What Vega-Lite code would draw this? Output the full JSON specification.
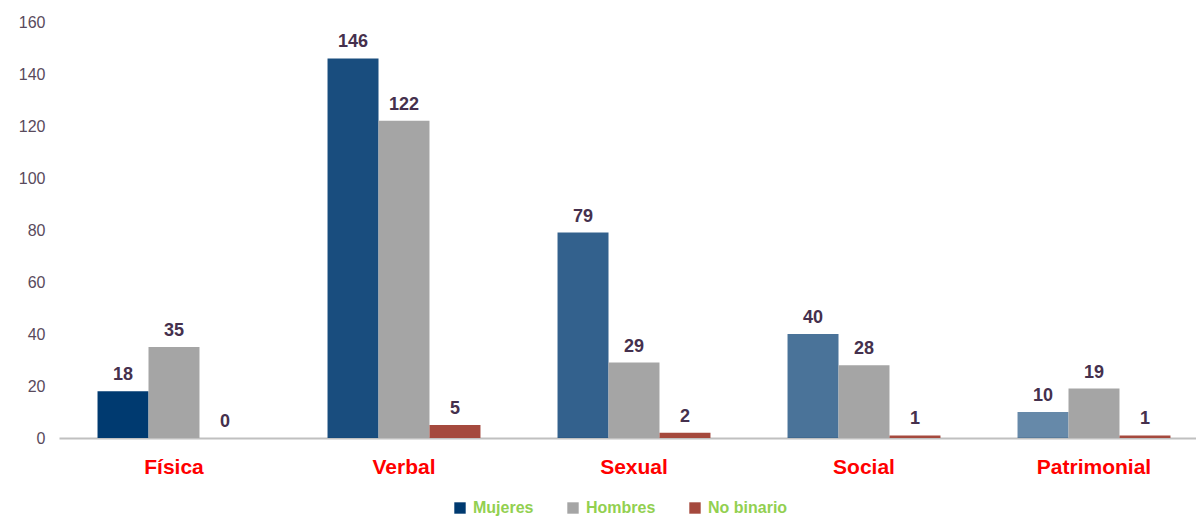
{
  "$schema": "https://vega.github.io/schema/vega-lite/v6.json",
  "autosize": {"type": "none"},
  "width": 1137,
  "height": 416,
  "padding": {"left": 59, "top": 22, "right": 0, "bottom": 80},
  "background": "white",
  "config": {
    "view": {"stroke": null},
    "font": "Liberation Sans"
  },
  "data": {
    "values": [
      {"categoria": "Física", "genero": "Mujeres", "valor": 18},
      {"categoria": "Física", "genero": "Hombres", "valor": 35},
      {"categoria": "Física", "genero": "No binario", "valor": 0},
      {"categoria": "Verbal", "genero": "Mujeres", "valor": 146},
      {"categoria": "Verbal", "genero": "Hombres", "valor": 122},
      {"categoria": "Verbal", "genero": "No binario", "valor": 5},
      {"categoria": "Sexual", "genero": "Mujeres", "valor": 79},
      {"categoria": "Sexual", "genero": "Hombres", "valor": 29},
      {"categoria": "Sexual", "genero": "No binario", "valor": 2},
      {"categoria": "Social", "genero": "Mujeres", "valor": 40},
      {"categoria": "Social", "genero": "Hombres", "valor": 28},
      {"categoria": "Social", "genero": "No binario", "valor": 1},
      {"categoria": "Patrimonial", "genero": "Mujeres", "valor": 10},
      {"categoria": "Patrimonial", "genero": "Hombres", "valor": 19},
      {"categoria": "Patrimonial", "genero": "No binario", "valor": 1}
    ]
  },
  "encoding": {
    "x": {
      "field": "categoria",
      "type": "nominal",
      "sort": ["Física", "Verbal", "Sexual", "Social", "Patrimonial"],
      "scale": {"range": [0, 1150], "paddingInner": 0.335, "paddingOuter": 0.1675},
      "axis": {
        "title": null,
        "labelAngle": 0,
        "labelColor": "#ff0000",
        "labelFontSize": 21,
        "labelFontWeight": "bold",
        "labelPadding": 18,
        "ticks": false,
        "domainColor": "#c0c0c0",
        "domainWidth": 2
      }
    },
    "xOffset": {
      "field": "genero",
      "type": "nominal",
      "sort": ["Mujeres", "Hombres", "No binario"]
    },
    "y": {
      "field": "valor",
      "type": "quantitative",
      "scale": {"domain": [0, 160]},
      "axis": {
        "title": null,
        "values": [0, 20, 40, 60, 80, 100, 120, 140, 160],
        "grid": false,
        "domain": false,
        "ticks": false,
        "labelColor": "#594a5c",
        "labelFontSize": 16,
        "labelPadding": 14
      }
    }
  },
  "layer": [
    {
      "mark": {"type": "bar"},
      "encoding": {
        "color": {
          "field": "genero",
          "type": "nominal",
          "scale": {
            "domain": ["Mujeres", "Hombres", "No binario"],
            "range": ["#003a70", "#a5a5a5", "#a5493d"]
          },
          "legend": {
            "title": null,
            "orient": "none",
            "direction": "horizontal",
            "legendX": 393,
            "legendY": 478,
            "symbolType": "square",
            "symbolSize": 130,
            "symbolStrokeWidth": 0,
            "symbolOpacity": 1,
            "labelColor": "#92d050",
            "labelFontSize": 16,
            "labelFontWeight": "bold",
            "labelOffset": 5,
            "columnPadding": 31,
            "padding": 0
          }
        },
        "opacity": {
          "condition": {"test": "datum.genero !== 'Mujeres'", "value": 1},
          "field": "categoria",
          "type": "ordinal",
          "scale": {
            "type": "ordinal",
            "domain": ["Física", "Verbal", "Sexual", "Social", "Patrimonial"],
            "range": [1, 0.9, 0.8, 0.71, 0.6]
          },
          "legend": null
        }
      }
    },
    {
      "mark": {
        "type": "text",
        "baseline": "alphabetic",
        "dy": -11,
        "fontSize": 18,
        "fontWeight": "bold",
        "color": "#45304d"
      },
      "encoding": {
        "text": {"field": "valor", "type": "quantitative"}
      }
    }
  ]
}
